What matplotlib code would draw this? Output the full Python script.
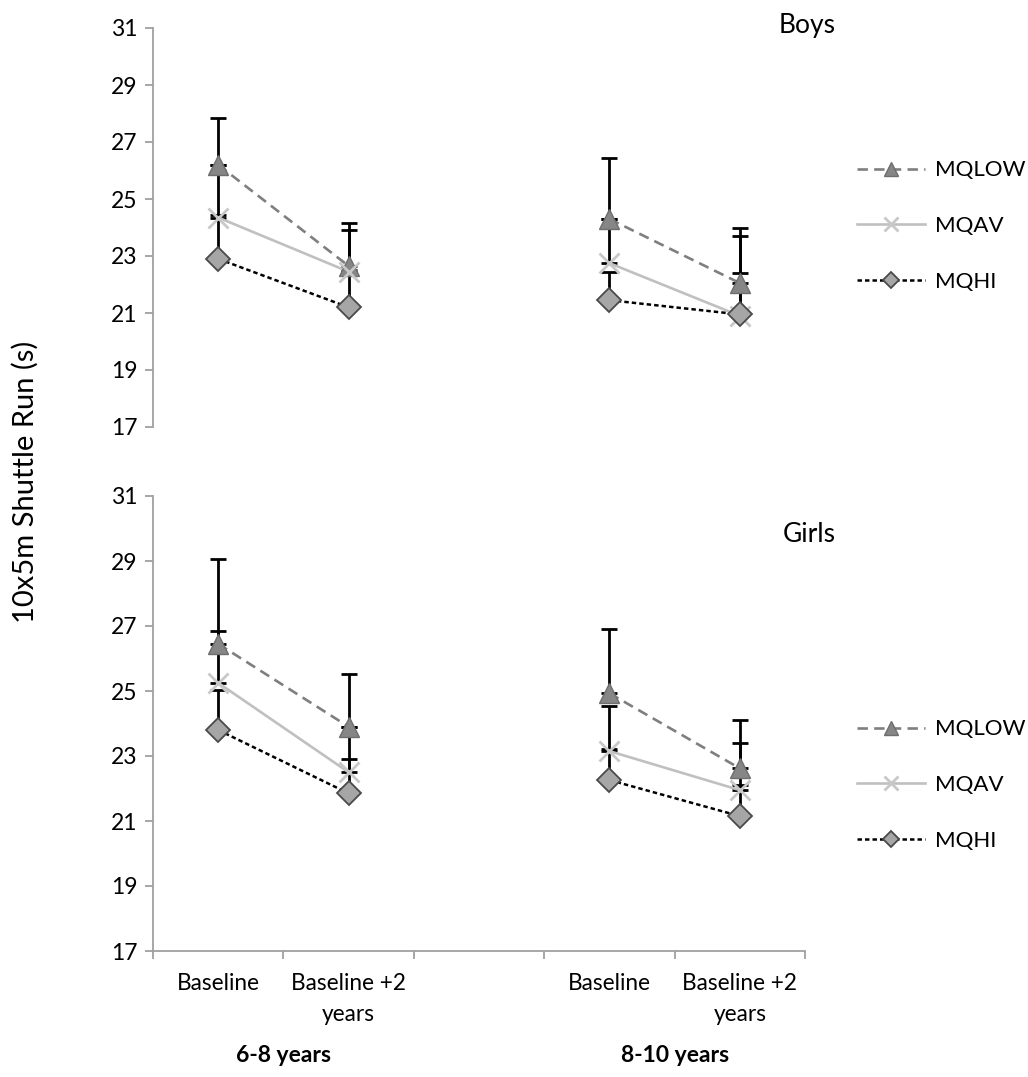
import numpy as np
import matplotlib
matplotlib.use("Agg")
import matplotlib.pyplot as plt
from matplotlib.lines import Line2D
from matplotlib.transforms import blended_transform_factory

plt.rcParams['font.family'] = ['Lato', 'DejaVu Sans']
plt.rcParams['lines.scale_dashes'] = False

nan = np.nan
categories = ["Baseline", "Baseline +2\nyears", "", "Baseline", "Baseline +2\nyears"]
groups = ["6-8 years", "8-10 years"]
series = ["MQLOW", "MQAV", "MQHI"]

boys_mqlow = [26.2, 22.65, nan, 24.3, 22.05]
boys_mqav = [24.35, 22.45, nan, 22.75, 20.9]
boys_mqhi = [22.9, 21.2, nan, 21.45, 20.95]
boys_mqlow_sd = [1.65, 1.5, nan, 2.15, 1.95]
boys_mqav_sd = [1.85, 1.45, nan, 1.55, 2.8]
boys_mqhi_sd = [1.55, 1.3, nan, 1.0, 1.45]

girls_mqlow = [26.45, 23.9, nan, 24.93, 22.62]
girls_mqav = [25.25, 22.5, nan, 23.15, 21.95]
girls_mqhi = [23.8, 21.85, nan, 22.26, 21.15]
girls_mqlow_sd = [2.6, 1.62, nan, 1.98, 1.5]
girls_mqav_sd = [1.6, 1.4, nan, 1.4, 1.45]
girls_mqhi_sd = [1.23, 1.05, nan, 0.94, 0.95]

styles = {
    "MQLOW": dict(color="#7f7f7f", linestyle=(0, (7.5, 4.5)), marker="^", markersize=15,
                  markerfacecolor="#868686", markeredgecolor="#6e6e6e", markeredgewidth=1.0, linewidth=1.9),
    "MQAV": dict(color="#c0c0c0", linestyle="-", marker="x", markersize=14,
                 markerfacecolor="#c8c8c8", markeredgecolor="#c8c8c8", markeredgewidth=2.0, linewidth=1.9),
    "MQHI": dict(color="#000000", linestyle=(0, (3.2, 2.2)), marker="D", markersize=12.5,
                 markerfacecolor="#a6a6a6", markeredgecolor="#4a4a4a", markeredgewidth=1.3, linewidth=1.8),
}

spine_col = "#a0a0a0"
x = np.arange(len(categories))

fig = plt.figure(figsize=(10.28, 10.77), dpi=100)
ax_top = fig.add_axes([153/1028, 1-427/1077, 652/1028, 399/1077])
ax_bot = fig.add_axes([153/1028, 1-951/1077, 652/1028, 455/1077])

panels = [
    (ax_top, [boys_mqlow, boys_mqav, boys_mqhi], [boys_mqlow_sd, boys_mqav_sd, boys_mqhi_sd], "Boys", 25, 226),
    (ax_bot, [girls_mqlow, girls_mqav, girls_mqhi], [girls_mqlow_sd, girls_mqav_sd, girls_mqhi_sd], "Girls", 535, 785),
]

for ax, vals, sds, title, ty, legy in panels:
    for name, v, sd in zip(series, vals, sds):
        v = np.array(v, dtype=float)
        sd = np.array(sd, dtype=float)
        ax.errorbar(x, v, yerr=[np.zeros_like(sd), sd], fmt="none", ecolor="black",
                    elinewidth=2.0, capsize=5.5, capthick=2.0, zorder=2)
    for name, v in zip(series, vals):
        st = styles[name]
        ax.plot(x, v, color=st["color"], linestyle=st["linestyle"], linewidth=st["linewidth"], zorder=3)
        ax.plot(x, v, linestyle="none", marker=st["marker"], markersize=st["markersize"],
                markerfacecolor=st["markerfacecolor"], markeredgecolor=st["markeredgecolor"],
                markeredgewidth=st["markeredgewidth"], zorder=4)
    ax.set_xlim(-0.5, len(categories) - 0.5)
    ax.set_ylim(17, 31)
    ax.set_yticks(np.arange(17, 32, 2))
    for s in ["top", "right"]:
        ax.spines[s].set_visible(False)
    ax.spines["left"].set_color(spine_col)
    ax.spines["left"].set_linewidth(1.3)
    ax.spines["bottom"].set_color(spine_col)
    ax.spines["bottom"].set_linewidth(1.3)
    ax.tick_params(axis="y", direction="out", length=6, width=1.3, color=spine_col,
                   labelsize=16.5, pad=5, labelcolor="black")
    fig.text(836/1028, 1-ty/1077, title, ha="right", va="center", fontsize=19)
    handles = []
    for name in series:
        st = styles[name]
        handles.append(Line2D([], [], color=st["color"], linestyle=st["linestyle"], linewidth=st["linewidth"],
                              marker=st["marker"], markersize=st["markersize"] * 0.68,
                              markerfacecolor=st["markerfacecolor"], markeredgecolor=st["markeredgecolor"],
                              markeredgewidth=st["markeredgewidth"]))
    fig.legend(handles, series, loc="center left", bbox_to_anchor=(857/1028, 1-legy/1077), frameon=False,
               fontsize=16, handlelength=3.05, handletextpad=0.45, labelspacing=1.6,
               borderpad=0, borderaxespad=0)

ax_top.spines["bottom"].set_visible(False)
ax_top.set_xticks([])

ax_bot.set_xticks(np.arange(-0.5, len(categories), 1.0))
ax_bot.set_xticklabels([])
ax_bot.tick_params(axis="x", which="major", direction="out", length=6, width=1.3, color=spine_col)
ax_bot.set_xticks(x, minor=True)
ax_bot.set_xticklabels(categories, minor=True, fontsize=16.3, linespacing=1.6)
ax_bot.tick_params(axis="x", which="minor", length=0, pad=16)

fig.text(25/1028, 1-482/1077, "10x5m Shuttle Run (s)", rotation=90, ha="center", va="center", fontsize=21)
trans = blended_transform_factory(ax_bot.transData, fig.transFigure)
group_centers = [np.mean(x[0:2]), np.mean(x[3:5])]
for g, gx in zip(groups, group_centers):
    ax_bot.text(gx, 1-1055/1077, g, transform=trans, ha="center", va="center",
                fontsize=16.5, fontweight="bold")

fig.savefig("out.png", dpi=100)
